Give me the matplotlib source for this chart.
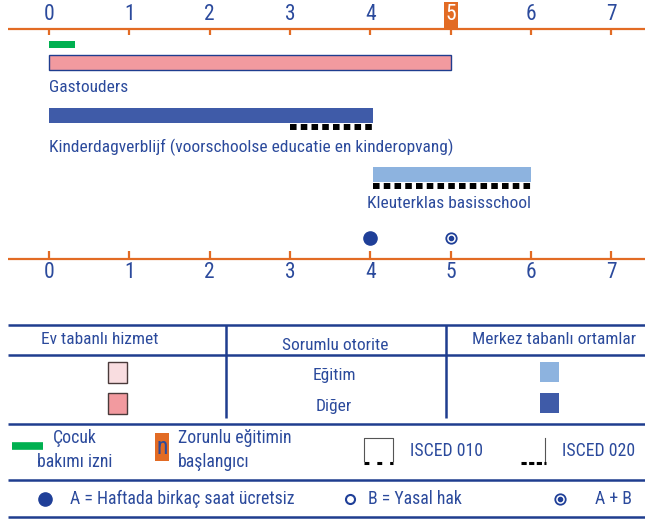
import matplotlib
matplotlib.use('Agg')
import matplotlib.pyplot as plt
from matplotlib.patches import Rectangle

plt.rcParams['font.family'] = ['Roboto Condensed', 'DejaVu Sans']

# data
ages = [0, 1, 2, 3, 4, 5, 6, 7]
compulsory_age = 5
leave = (0, 0.33)                       # childcare leave (years)
settings = ['Gastouders',
            'Kinderdagverblijf (voorschoolse educatie en kinderopvang)',
            'Kleuterklas basisschool']
starts = [0, 0, 4.04]
ends = [5, 4.04, 6]
isced020 = [None, (3, 4.04), (4.04, 6)]
free_hours_age = 4                      # A
free_and_right_age = 5                  # A + B

table_head = ['Ev tabanlı hizmet', 'Sorumlu otorite', 'Merkez tabanlı ortamlar']
table_rows = ['Eğitim', 'Diğer']

txt = '#2b4a9c'
navy = '#1f3d8f'
orange = '#e26b24'
pink = '#f29a9f'
pale_pink = '#f9dde0'
dblue = '#3f5ba8'
lblue = '#8db3df'
green = '#00b050'

fs_tick = 15.5
fs_bar = 12.5
fs_tab = 12.5
fs_leg = 12.8

fig = plt.figure(figsize=(6.45, 5.19), dpi=100)

# timeline, x in years, y in pixels
px0, pxy = 49, 80.3
ax = fig.add_axes([0, 0, 1, 1])
ax.set_xlim(-px0 / pxy, (645 - px0) / pxy)
ax.set_ylim(519, 0)
ax.axis('off')

xl = (8 - px0) / pxy
xr = (645 - px0) / pxy
for yl, t0, t1, ylab in [(29, 29, 35, 15), (259, 251, 259, 273)]:
    ax.plot([xl, xr], [yl, yl], color=orange, lw=1.6, solid_capstyle='butt')
    ax.vlines(ages, t0, t1, color=orange, lw=1.6)
    for a in ages:
        if yl == 29 and a == compulsory_age:
            continue
        ax.text(a, ylab, str(a), color=txt, fontsize=fs_tick, ha='center', va='center')

ax.bar(compulsory_age, 26, width=14 / pxy, bottom=2, color=orange)
ax.text(compulsory_age, 15, str(compulsory_age), color='white', fontsize=fs_tick,
        ha='center', va='center')

ax.barh(44.5, leave[1] - leave[0], left=leave[0], height=7, color=green)

bar_y = [62.5, 115.5, 174.5]
bar_c = [pink, dblue, lblue]
lab_x = [0, 0, 3.96]
lab_y = [87, 147, 204]
for i in range(len(settings)):
    ec = navy if i == 0 else 'none'
    ax.barh(bar_y[i], ends[i] - starts[i], left=starts[i], height=15,
            color=bar_c[i], edgecolor=ec, lw=1)
    if isced020[i] is not None:
        ax.plot(isced020[i], [bar_y[i] + 11, bar_y[i] + 11], color='black',
                lw=4.3, ls=(0, (1.1, 0.7)))
    ax.text(lab_x[i], lab_y[i], settings[i], color=txt, fontsize=fs_bar,
            ha='left', va='center')

ax.plot(free_hours_age, 238, 'o', color='#1f3f98', ms=9.5)
ax.plot(free_and_right_age, 238, 'o', mfc='white', mec='#1f3f98', mew=1.3, ms=7.5)
ax.plot(free_and_right_age, 238, 'o', color='#1f3f98', ms=3)

# table and legend, pixel coords
axl = fig.add_axes([0, 0, 1, 1])
axl.set_xlim(0, 645)
axl.set_ylim(519, 0)
axl.axis('off')
axl.patch.set_alpha(0)

axl.hlines([325, 355, 424, 480, 517], 8, 645, color=navy, lw=1.8)
axl.vlines([226, 446], 325, 418, color=navy, lw=1.8)

axl.text(100, 340, table_head[0], color=txt, fontsize=fs_tab, ha='center', va='center')
axl.text(335, 345, table_head[1], color=txt, fontsize=fs_tab, ha='center', va='center')
axl.text(554, 340, table_head[2], color=txt, fontsize=fs_tab, ha='center', va='center')

row_y = [372, 403]
home_c = [pale_pink, pink]
centre_c = [lblue, dblue]
for i in range(len(table_rows)):
    axl.text(334, row_y[i] + 3, table_rows[i], color=txt, fontsize=fs_tab,
             ha='center', va='center')
    axl.add_patch(Rectangle((108, row_y[i] - 10), 19, 21, fc=home_c[i],
                            ec='#4a3a3a', lw=1))
    axl.add_patch(Rectangle((540, row_y[i] - 10), 19, 20, fc=centre_c[i], ec='none'))

# legend row 1
axl.plot([12, 43], [446, 446], color=green, lw=5.5, solid_capstyle='butt')
axl.text(53, 438, 'Çocuk', color=txt, fontsize=fs_leg, ha='left', va='center')
axl.text(37, 462, 'bakımı izni', color=txt, fontsize=fs_leg, ha='left', va='center')

axl.add_patch(Rectangle((155, 433), 14, 28, fc=orange, ec='none'))
axl.text(162, 447, 'n', color='#2b4a9c', fontsize=17, ha='center', va='center')
axl.text(178, 438, 'Zorunlu eğitimin', color=txt, fontsize=fs_leg, ha='left', va='center')
axl.text(178, 462, 'başlangıcı', color=txt, fontsize=fs_leg, ha='left', va='center')

axl.plot([364, 364, 393, 393], [461, 438, 438, 461], color='#555555', lw=0.8)
axl.plot([364, 393], [463, 463], color='black', lw=2.2, ls=(0, (1.6, 2.6)))
axl.text(410, 451, 'ISCED 010', color=txt, fontsize=fs_leg, ha='left', va='center')

axl.plot([545, 545], [438, 461], color='#555555', lw=0.8)
axl.plot([521, 546], [463, 463], color='black', lw=2.2, ls=(0, (1.7, 0.8)))
axl.text(562, 451, 'ISCED 020', color=txt, fontsize=fs_leg, ha='left', va='center')

# legend row 2
axl.plot(45, 499, 'o', color='#1f3f98', ms=9.5)
axl.text(70, 499, 'A = Haftada birkaç saat ücretsiz', color=txt, fontsize=fs_leg,
         ha='left', va='center')
axl.plot(350, 499, 'o', mfc='white', mec='#1f3f98', mew=1.5, ms=6.5)
axl.text(368, 499, 'B = Yasal hak', color=txt, fontsize=fs_leg, ha='left', va='center')
axl.plot(560, 499, 'o', mfc='white', mec='#1f3f98', mew=1.3, ms=7.5)
axl.plot(560, 499, 'o', color='#1f3f98', ms=3)
axl.text(595, 499, 'A + B', color=txt, fontsize=fs_leg, ha='left', va='center')

fig.savefig('out.png', dpi=100)
